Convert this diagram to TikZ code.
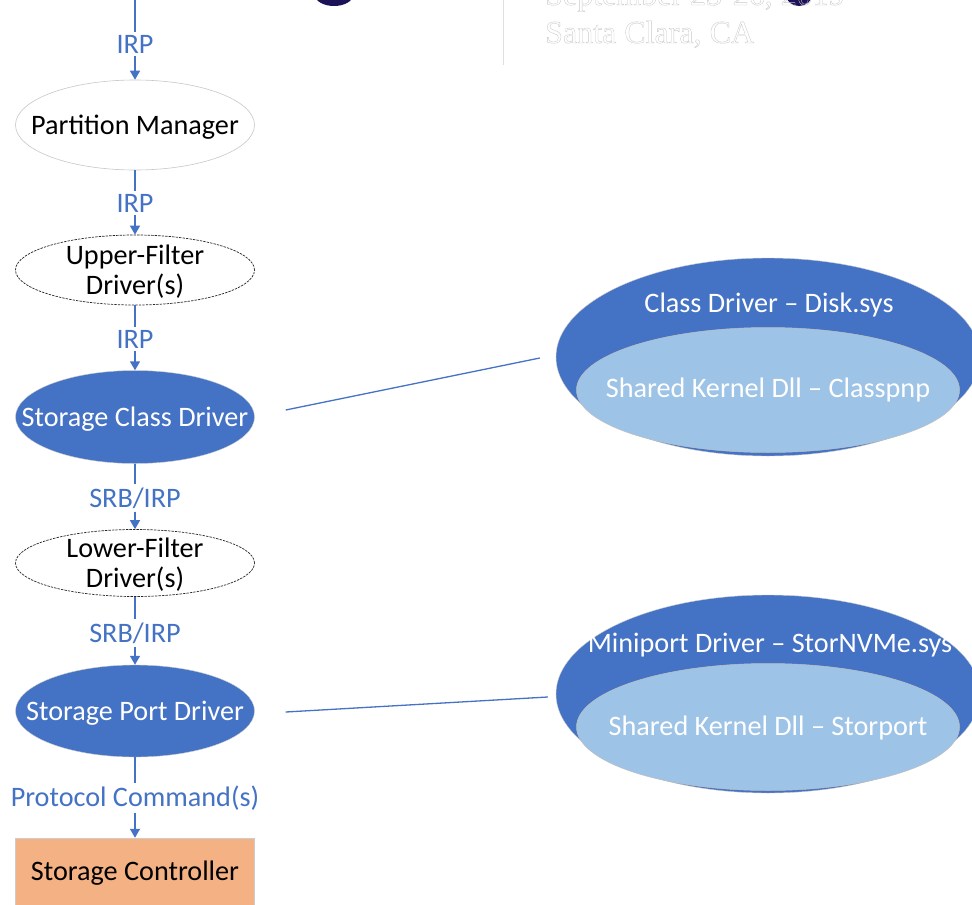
\documentclass[tikz,border=0pt]{standalone}
\usepackage{fontspec}
\setmainfont{Carlito}
\newfontfamily\serifhead{Liberation Serif}
\usetikzlibrary{shapes.geometric,arrows.meta}

\definecolor{msblue}{HTML}{4472C4}
\definecolor{mslight}{HTML}{9DC3E6}
\definecolor{msorange}{HTML}{F4B183}
\definecolor{navyhead}{HTML}{1B1257}

\tikzset{
  every picture/.style={x=1pt,y=-1pt},
  txt/.style={font=\fontsize{28.2}{30}\selectfont, align=center, inner sep=0pt},
  flowlabel/.style={txt, text=msblue, fill=white, inner sep=3pt},
  layer/.style={ellipse, minimum width=239pt, inner sep=0pt},
  plainlayer/.style={layer, draw=black!22, line width=0.6pt, fill=white},
  filterlayer/.style={layer, draw=black!85, line width=0.7pt, dash pattern=on 2.4pt off 1.1pt, fill=white},
  solidlayer/.style={layer, fill=msblue, draw=white!80!black, line width=0.4pt},
  outerblob/.style={ellipse, fill=msblue, draw=white!80!black, line width=0.4pt,
                    minimum width=424pt, minimum height=198pt, inner sep=0pt},
  innerblob/.style={ellipse, fill=mslight, draw=white!75!black, line width=0.5pt,
                    minimum width=383pt, inner sep=0pt},
  flow/.style={draw=msblue, line width=1.4pt},
  flowarrow/.style={flow, -{Triangle[length=9pt,width=10pt]}},
  link/.style={draw=msblue, line width=1.3pt},
}

\begin{document}
\begin{tikzpicture}
\useasboundingbox (0,0) rectangle (972,905);
\clip (0,0) rectangle (972,905);

% header fragments
\fill[navyhead] (334,-5) ellipse [x radius=19, y radius=11];
\fill[navyhead] (799,-5) ellipse [x radius=13, y radius=11];
\draw[black!12, line width=1pt] (503,0) -- (503,65);
\node[anchor=base west, inner sep=0pt, font=\serifhead\fontsize{32}{36}\selectfont] (hdate) at (545,5)
  {\special{pdf:literal direct 1 Tr 0.35 w 0.78 G}September 23-26, 2019\special{pdf:literal direct 0 Tr}};
\node[anchor=base west, inner sep=0pt, font=\serifhead\fontsize{32}{36}\selectfont] (hplace) at (545,43)
  {\special{pdf:literal direct 1 Tr 0.35 w 0.78 G}Santa Clara, CA\special{pdf:literal direct 0 Tr}};

% driver stack
\coordinate (top) at (135,0);
\node[flowlabel] (l0) at (135,44) {IRP};
\node[plainlayer, minimum height=90pt, label={[txt, yshift=-2pt]center:Partition Manager}] (pm) at (135,125) {};
\node[flowlabel] (l1) at (135,203) {IRP};
\node[filterlayer, minimum height=70pt, label={[txt, yshift=-1.5pt]center:Upper-Filter\\Driver(s)}] (uf) at (135,270) {};
\node[flowlabel] (l2) at (135,339) {IRP};
\node[solidlayer, minimum height=93pt, label={[txt, text=white, yshift=-2pt]center:Storage Class Driver}] (scd) at (135,417) {};
\node[flowlabel] (l3) at (135,498) {SRB/IRP};
\node[filterlayer, minimum height=67pt, label={[txt, yshift=-1.5pt]center:Lower-Filter\\Driver(s)}] (lf) at (135,563) {};
\node[flowlabel] (l4) at (135,633) {SRB/IRP};
\node[solidlayer, minimum height=92pt, label={[txt, text=white, yshift=-2pt]center:Storage Port Driver}] (spd) at (135,711) {};
\node[flowlabel] (l5) at (135,798) {Protocol Command(s)};
\node[rectangle, fill=msorange, draw=black!20, line width=0.5pt, minimum width=239pt, minimum height=67pt,
      label={[txt, yshift=-2pt]center:Storage Controller}] (sc) at (135,871.5) {};

\draw[flow] (top) -- (l0);        \draw[flowarrow] (l0) -- (pm);
\draw[flow] (pm) -- (l1);         \draw[flowarrow] (l1) -- (uf);
\draw[flow] (uf) -- (l2);         \draw[flowarrow] (l2) -- (scd);
\draw[flow] (scd) -- (l3);        \draw[flowarrow] (l3) -- (lf);
\draw[flow] (lf) -- (l4);         \draw[flowarrow] (l4) -- (spd);
\draw[flow] (spd) -- (l5);        \draw[flowarrow] (l5) -- (sc);

% class driver detail
\node[outerblob] (cdo) at (768,357) {};
\node[innerblob, minimum height=125pt] (cdi) at (768,390) {};
\node[txt, text=white] (cdt) at (769,305) {Class Driver -- Disk.sys};
\node[txt, text=white] (cdk) at (768,390) {Shared Kernel Dll -- Classpnp};

% miniport detail
\node[outerblob] (mpo) at (768,694) {};
\node[innerblob, minimum height=127pt] (mpi) at (768,727) {};
\node[txt, text=white] (mpt) at (770,645) {Miniport Driver -- StorNVMe.sys};
\node[txt, text=white] (mpk) at (768,728) {Shared Kernel Dll -- Storport};

\draw[link] ([xshift=31pt, yshift=7pt]scd.east) -- ([xshift=-16pt, yshift=-1pt]cdo.west);
\draw[link] ([xshift=31pt, yshift=-1pt]spd.east) -- ([xshift=-8pt, yshift=-3pt]mpo.west);
\end{tikzpicture}
\end{document}
